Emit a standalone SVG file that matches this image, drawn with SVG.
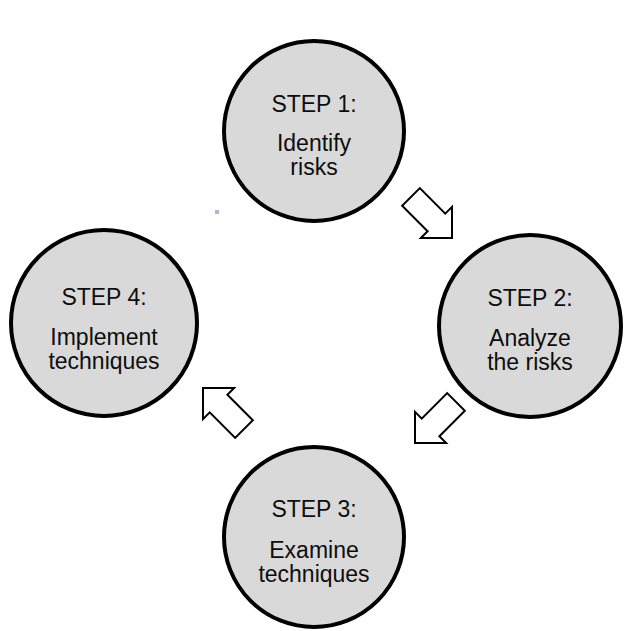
<svg xmlns="http://www.w3.org/2000/svg" width="628" height="631" viewBox="0 0 628 631">
<style>
.c{fill:#d9d9d9;stroke:#000;stroke-width:4}
.t{font-family:"Liberation Sans",Arial,sans-serif;font-size:23px;fill:#0d0d0d;text-anchor:middle}
.a{fill:#fff;stroke:#000;stroke-width:2;stroke-linejoin:miter}
</style>
<defs>
<polygon id="arr" points="0,0 -22,-22 -22,-12.5 -58,-12.5 -58,12.5 -22,12.5 -22,22"/>
</defs>
<rect width="628" height="631" fill="#fff"/>
<g id="connectors">
<use href="#arr" class="a" transform="translate(452,238) rotate(45)"/>
<use href="#arr" class="a" transform="translate(415,443) rotate(135)"/>
<use href="#arr" class="a" transform="translate(203,388) rotate(225)"/>
</g>
<g id="step1">
<circle class="c" cx="314" cy="131" r="90"/>
<text class="t" x="314" y="112">STEP 1:</text>
<text class="t" x="314" y="151">Identify</text>
<text class="t" x="314" y="175">risks</text>
</g>
<g id="step2">
<circle class="c" cx="530" cy="326" r="91"/>
<text class="t" x="530" y="306">STEP 2:</text>
<text class="t" x="530" y="346">Analyze</text>
<text class="t" x="530" y="370">the risks</text>
</g>
<g id="step3">
<circle class="c" cx="314" cy="537" r="90"/>
<text class="t" x="314" y="517">STEP 3:</text>
<text class="t" x="314" y="558">Examine</text>
<text class="t" x="314" y="582">techniques</text>
</g>
<g id="step4">
<circle class="c" cx="104" cy="323" r="93"/>
<text class="t" x="104" y="305">STEP 4:</text>
<text class="t" x="104" y="345">Implement</text>
<text class="t" x="104" y="369">techniques</text>
</g>
<rect x="215" y="210" width="4" height="4" fill="#a9b9dc"/>
</svg>
